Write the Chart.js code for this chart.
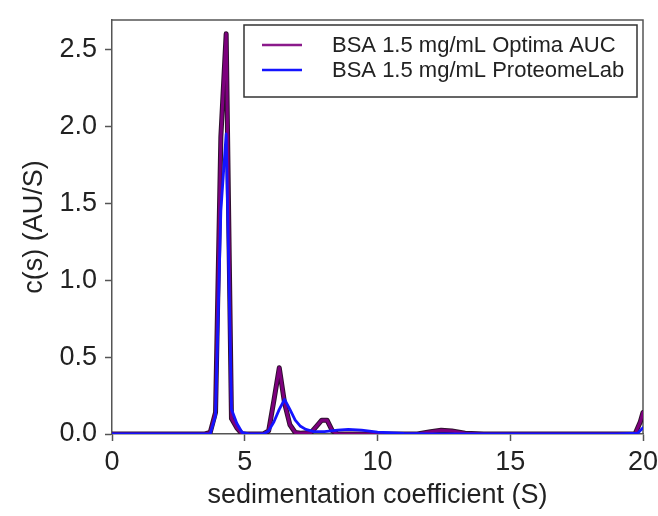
<!DOCTYPE html>
<html>
<head>
<meta charset="utf-8">
<script src="https://cdn.jsdelivr.net/npm/chart.js@4.4.0/dist/chart.umd.min.js"></script>
<style>
  html, body { margin: 0; padding: 0; background: #fff; }
</style>
</head>
<body>
<canvas id="chart" width="658" height="516"></canvas>
<script>
"use strict";
// c(s) distributions
const optimaS = [0, 1, 2, 3, 3.5, 3.7, 3.9, 4.1, 4.3, 4.5, 4.7, 4.9, 5.3, 5.7, 5.9, 6.1, 6.3, 6.5, 6.7, 6.9, 7.1, 7.5, 7.7, 7.9, 8.1, 8.3, 8.5, 9, 10, 11, 11.5, 12, 12.4, 12.8, 13.3, 14, 15, 16, 17, 18, 19, 19.7, 19.9, 20];
const optimaC = [0, 0, 0, 0, 0, 0.01, 0.14, 1.93, 2.6, 0.1, 0.04, 0, 0, 0, 0.02, 0.22, 0.43, 0.2, 0.06, 0.01, 0.005, 0.01, 0.05, 0.09, 0.09, 0.02, 0, 0, 0, 0, 0, 0.015, 0.025, 0.02, 0.005, 0, 0, 0, 0, 0, 0, 0, 0.08, 0.14];

const proteomeS = [0, 1, 2, 3, 3.5, 3.7, 3.9, 4.1, 4.3, 4.5, 4.7, 4.9, 5.2, 5.7, 5.9, 6.1, 6.3, 6.5, 6.7, 6.9, 7.1, 7.3, 7.6, 8.0, 8.5, 8.9, 9.4, 10, 11, 12, 13, 14, 15, 16, 17, 18, 19, 19.8, 20];
const proteomeC = [0, 0, 0, 0, 0, 0, 0.12, 1.45, 1.95, 0.16, 0.07, 0.01, 0, 0, 0.02, 0.08, 0.16, 0.225, 0.16, 0.09, 0.05, 0.03, 0.015, 0.015, 0.025, 0.03, 0.025, 0.012, 0.004, 0, 0, 0, 0, 0, 0, 0, 0, 0.005, 0.04];

const seriesLabels = ["BSA 1.5 mg/mL Optima AUC", "BSA 1.5 mg/mL ProteomeLab"];
const xTicks = [0, 5, 10, 15, 20];
const yTicks = [0, 0.5, 1, 1.5, 2, 2.5];

const toPoints = function (xs, ys) {
  return xs.map(function (x, i) {
    return { x: x, y: ys[i] };
  });
};

const FONT = "'Liberation Sans', Arial, sans-serif";
const AXIS_COLOR = "#555";

// top and right sides of the frame
const framePlugin = {
  id: "frame",
  beforeDatasetsDraw(chart) {
    const { ctx, chartArea: a } = chart;
    ctx.save();
    ctx.strokeStyle = AXIS_COLOR;
    ctx.lineWidth = 1.5;
    ctx.beginPath();
    ctx.moveTo(a.left, a.top);
    ctx.lineTo(a.right, a.top);
    ctx.lineTo(a.right, a.bottom);
    ctx.stroke();
    ctx.restore();
  },
};

// boxed legend in the top right corner, entries in seriesLabels order
const boxLegendPlugin = {
  id: "boxLegend",
  afterDraw(chart) {
    const { ctx, chartArea: a } = chart;
    const items = seriesLabels.map(function (lbl) {
      return chart.data.datasets.find(function (d) {
        return d.label === lbl;
      });
    });
    const w = 393, h = 72;
    const left = a.right - 6 - w;
    const top = a.top + 5;
    ctx.save();
    ctx.fillStyle = "#fff";
    ctx.fillRect(left, top, w, h);
    ctx.strokeStyle = "#333";
    ctx.lineWidth = 1.5;
    ctx.strokeRect(left, top, w, h);
    ctx.font = "22px " + FONT;
    ctx.textBaseline = "middle";
    items.forEach(function (d, i) {
      const y = top + 20 + i * 25;
      ctx.strokeStyle = d.legendColor || d.borderColor;
      ctx.lineWidth = 2.5;
      ctx.beginPath();
      ctx.moveTo(left + 18, y);
      ctx.lineTo(left + 58, y);
      ctx.stroke();
      ctx.fillStyle = "#222";
      ctx.fillText(d.label, left + 88, y + 1);
    });
    ctx.restore();
  },
};

new Chart(document.getElementById("chart"), {
  type: "scatter",
  data: {
    datasets: [
      {
        label: seriesLabels[1],
        data: toPoints(proteomeS, proteomeC),
        borderColor: "#1414ff",
        borderWidth: 2.8,
        order: 0,
      },
      {
        label: seriesLabels[0],
        data: toPoints(optimaS, optimaC),
        borderColor: "#7d007d",
        legendColor: "#8b1a8b",
        borderWidth: 3,
        order: 1,
      },
      {
        // dark edge under the purple line
        data: toPoints(optimaS, optimaC),
        borderColor: "#2e102e",
        borderWidth: 5,
        order: 2,
      },
    ],
  },
  options: {
    responsive: false,
    animation: false,
    showLine: true,
    elements: {
      point: { radius: 0 },
      line: { tension: 0, borderJoinStyle: "round", borderCapStyle: "round" },
    },
    layout: { autoPadding: false, padding: { top: 20, right: 15, left: 0, bottom: 0 } },
    plugins: {
      legend: { display: false },
      tooltip: { enabled: false },
    },
    scales: {
      x: {
        type: "linear",
        min: 0,
        max: 20,
        afterBuildTicks: function (scale) {
          scale.ticks = xTicks.map(function (v) {
            return { value: v };
          });
        },
        afterFit: function (scale) {
          scale.height = 82;
          scale.paddingLeft = 0;
          scale.paddingRight = 0;
        },
        ticks: {
          color: "#222",
          font: { family: FONT, size: 27 },
          padding: 5,
          maxRotation: 0,
          callback: function (v) {
            return String(v);
          },
        },
        grid: { drawOnChartArea: false, tickLength: 7, color: AXIS_COLOR, tickWidth: 1.5 },
        border: { color: AXIS_COLOR, width: 1.5 },
        title: {
          display: true,
          text: "sedimentation coefficient (S)",
          color: "#222",
          font: { family: FONT, size: 27 },
          padding: { top: 0, bottom: 4 },
        },
      },
      y: {
        type: "linear",
        min: 0,
        max: 2.69,
        afterBuildTicks: function (scale) {
          scale.ticks = yTicks.map(function (v) {
            return { value: v };
          });
        },
        afterFit: function (scale) {
          scale.width = 112;
          scale.paddingTop = 0;
          scale.paddingBottom = 0;
        },
        ticks: {
          color: "#222",
          font: { family: FONT, size: 27 },
          padding: 8,
          callback: function (v) {
            return Number(v).toFixed(1);
          },
        },
        grid: { drawOnChartArea: false, tickLength: 7, color: AXIS_COLOR, tickWidth: 1.5 },
        border: { color: AXIS_COLOR, width: 1.5 },
        title: {
          display: true,
          text: "c(s) (AU/S)",
          color: "#222",
          font: { family: FONT, size: 27 },
          padding: { top: 18, bottom: 0 },
        },
      },
    },
  },
  plugins: [framePlugin, boxLegendPlugin],
});
</script>
</body>
</html>
